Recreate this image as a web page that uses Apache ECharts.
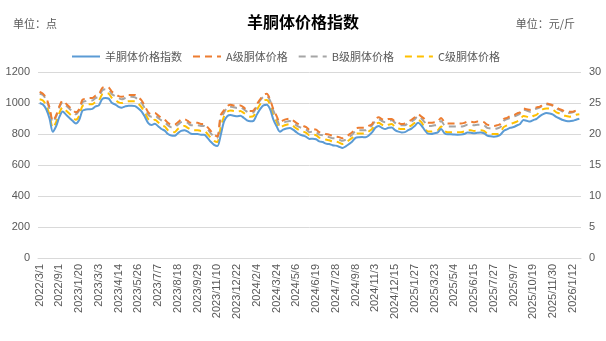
<!DOCTYPE html>
<html>
<head>
<meta charset="utf-8">
<script src="https://cdn.jsdelivr.net/npm/echarts@6/dist/echarts.min.js"></script>
<style>
  html, body { margin: 0; padding: 0; background: #fff; }
  #chart { width: 606px; height: 341px; }
</style>
</head>
<body>
<div id="chart"></div>
<script>
// Weekly (early period monthly) sampling dates
const dates = [
  '2022/3/1','2022/4/1','2022/5/1','2022/6/1','2022/7/1','2022/8/1','2022/9/1',
  '2022/10/1','2022/11/1','2022/12/1','2023/1/6','2023/1/13','2023/1/20',
  '2023/1/27','2023/2/3','2023/2/10','2023/2/17','2023/2/24','2023/3/3',
  '2023/3/10','2023/3/17','2023/3/24','2023/3/31','2023/4/7','2023/4/14',
  '2023/4/21','2023/4/28','2023/5/5','2023/5/12','2023/5/19','2023/5/26',
  '2023/6/2','2023/6/9','2023/6/16','2023/6/23','2023/6/30','2023/7/7',
  '2023/7/14','2023/7/21','2023/7/28','2023/8/4','2023/8/11','2023/8/18',
  '2023/8/25','2023/9/1','2023/9/8','2023/9/15','2023/9/22','2023/9/29',
  '2023/10/6','2023/10/13','2023/10/20','2023/10/27','2023/11/3','2023/11/10',
  '2023/11/17','2023/11/24','2023/12/1','2023/12/8','2023/12/15','2023/12/22',
  '2023/12/29','2024/1/5','2024/1/12','2024/1/19','2024/1/26','2024/2/4',
  '2024/2/18','2024/2/25','2024/3/3','2024/3/10','2024/3/17','2024/3/24',
  '2024/3/31','2024/4/7','2024/4/14','2024/4/21','2024/4/28','2024/5/6',
  '2024/5/13','2024/5/20','2024/5/27','2024/6/3','2024/6/11','2024/6/19',
  '2024/6/23','2024/6/30','2024/7/7','2024/7/14','2024/7/21','2024/7/28',
  '2024/8/4','2024/8/11','2024/8/18','2024/8/25','2024/9/1','2024/9/8',
  '2024/9/15','2024/9/22','2024/10/13','2024/10/20','2024/10/27','2024/11/3',
  '2024/11/10','2024/11/17','2024/11/24','2024/12/1','2024/12/8','2024/12/15',
  '2024/12/22','2024/12/29','2025/1/5','2025/1/12','2025/1/19','2025/1/27',
  '2025/2/16','2025/2/23','2025/3/2','2025/3/9','2025/3/16','2025/3/23',
  '2025/3/30','2025/4/6','2025/4/13','2025/4/20','2025/4/27','2025/5/4',
  '2025/5/11','2025/5/18','2025/5/25','2025/6/1','2025/6/8','2025/6/15',
  '2025/6/22','2025/6/29','2025/7/6','2025/7/13','2025/7/20','2025/7/27',
  '2025/8/3','2025/8/10','2025/8/17','2025/8/24','2025/8/31','2025/9/7',
  '2025/9/14','2025/9/21','2025/9/28','2025/10/5','2025/10/12','2025/10/19',
  '2025/10/26','2025/11/2','2025/11/9','2025/11/16','2025/11/23','2025/11/30',
  '2025/12/7','2025/12/14','2025/12/21','2025/12/28','2026/1/4','2026/1/12',
  '2026/1/18','2026/1/25'
];

// 羊胴体价格指数 (点)
const indexValues = [
  1000,990,960,900,815,850,910,945,925,905,885,868,890,
  950,958,960,962,978,985,1025,1032,1028,1000,990,975,
  970,978,983,983,980,965,945,910,870,858,866,850,
  832,822,800,790,788,805,820,825,815,802,800,800,
  795,795,775,750,730,722,790,880,915,922,918,914,
  918,905,888,882,885,925,960,985,988,960,895,850,
  815,828,836,838,828,812,798,790,782,768,770,766,
  752,748,738,735,728,725,718,710,720,735,752,775,
  779,780,779,790,810,840,852,840,832,840,842,825,
  815,810,812,825,835,852,872,855,825,802,800,805,
  810,832,805,798,798,796,795,796,800,810,808,805,
  808,810,805,790,785,783,785,795,820,830,840,845,
  855,865,890,885,880,890,898,915,928,935,932,925,
  910,900,890,884,882,885,892,898
];

// A级胴体价格 (元/斤)
const gradeA = [
  26.8,26.5,25.8,24.3,22.1,23.0,24.5,25.4,24.9,24.4,23.9,23.5,24.0,
  25.5,25.7,25.8,25.8,26.2,26.4,27.4,27.6,27.5,26.8,26.5,26.1,
  26.0,26.2,26.3,26.3,26.3,25.9,25.4,24.5,23.5,23.2,23.4,23.0,
  22.6,22.3,21.8,21.5,21.5,21.9,22.3,22.4,22.1,21.8,21.8,21.8,
  21.6,21.6,21.1,20.5,19.9,19.6,23.0,23.8,24.5,24.7,24.6,24.5,
  24.6,24.3,23.8,23.7,23.8,24.8,25.6,26.3,26.5,25.6,24.0,22.9,
  21.9,22.2,22.4,22.5,22.2,21.8,21.5,21.3,21.1,20.7,20.8,20.7,
  20.3,20.2,20.0,19.9,19.7,19.6,19.5,19.3,19.5,19.9,20.3,20.9,
  21.0,21.0,21.0,21.3,21.6,22.4,22.7,22.4,22.2,22.4,22.4,22.0,
  21.8,21.6,21.7,22.0,22.3,22.7,23.2,22.8,22.4,21.8,21.8,21.9,
  22.0,22.6,21.9,21.7,21.7,21.7,21.7,21.7,21.8,22.0,22.0,21.9,
  22.0,22.0,21.9,21.5,21.4,21.3,21.4,21.6,22.4,22.6,22.9,23.0,
  23.3,23.5,24.1,24.0,23.9,24.1,24.3,24.4,24.7,24.9,24.8,24.6,
  24.3,24.0,23.8,23.6,23.6,23.6,23.8,24.0
];

// B级胴体价格 (元/斤)
const gradeB = [
  26.5,26.3,25.5,24.0,21.9,22.8,24.3,25.1,24.6,24.1,23.6,23.2,23.8,
  25.1,25.3,25.4,25.4,25.8,26.0,27.0,27.2,27.1,26.4,26.1,25.8,
  25.6,25.8,26.0,26.0,25.9,25.5,25.0,24.1,23.1,22.8,23.0,22.6,
  22.2,21.9,21.4,21.1,21.1,21.5,21.9,22.0,21.8,21.4,21.4,21.4,
  21.3,21.3,20.8,20.1,19.6,19.4,22.5,23.4,24.3,24.4,24.3,24.2,
  24.3,24.0,23.6,23.4,23.5,24.5,25.4,26.0,26.1,25.4,23.8,22.6,
  21.5,21.8,22.0,22.1,21.8,21.4,21.1,20.9,20.7,20.3,20.4,20.3,
  19.9,19.8,19.6,19.5,19.3,19.3,19.1,18.9,19.1,19.5,19.9,20.5,
  20.6,20.6,20.6,20.9,21.4,22.1,22.4,22.1,21.9,22.1,22.2,21.8,
  21.5,21.4,21.4,21.8,22.0,22.4,22.9,22.5,21.9,21.3,21.3,21.4,
  21.5,22.1,21.4,21.2,21.2,21.2,21.2,21.2,21.3,21.5,21.5,21.4,
  21.5,21.5,21.4,21.0,20.9,20.8,20.9,21.1,22.1,22.4,22.6,22.8,
  23.0,23.3,23.9,23.8,23.6,23.9,24.1,24.3,24.6,24.8,24.7,24.5,
  24.1,23.9,23.6,23.5,23.4,23.5,23.7,23.8
];

// C级胴体价格 (元/斤)
const gradeC = [
  25.6,25.4,24.6,23.1,21.0,21.9,23.4,24.3,23.8,23.3,22.8,22.3,22.9,
  24.5,24.7,24.8,24.8,25.2,25.4,26.4,26.6,26.5,25.8,25.5,25.1,
  25.0,25.2,25.3,25.3,25.3,24.9,24.3,23.4,22.4,22.1,22.3,21.9,
  21.4,21.2,20.6,20.4,20.3,20.8,21.1,21.3,21.0,20.7,20.6,20.6,
  20.5,20.5,20.0,19.4,18.9,18.7,21.0,22.8,23.6,23.8,23.7,23.6,
  23.7,23.4,23.0,22.8,22.9,23.9,24.8,25.4,25.5,24.8,23.1,22.0,
  21.0,21.3,21.5,21.6,21.3,20.9,20.6,20.4,20.2,19.8,19.9,19.8,
  19.4,19.3,19.1,19.0,18.8,18.8,18.6,18.4,18.6,19.0,19.4,20.0,
  20.1,20.1,20.1,20.4,20.8,21.5,21.8,21.5,21.3,21.5,21.6,21.1,
  20.9,20.8,20.8,21.1,21.4,21.8,22.3,21.9,21.0,20.4,20.4,20.5,
  20.6,21.2,20.5,20.3,20.3,20.3,20.3,20.3,20.4,20.6,20.6,20.5,
  20.6,20.6,20.5,20.1,20.0,20.0,20.0,20.3,21.1,21.4,21.6,21.8,
  22.0,22.3,22.9,22.8,22.6,22.9,23.1,23.6,24.0,24.1,24.1,23.9,
  23.5,23.3,23.0,22.9,22.8,22.9,23.1,23.2
];

const seriesNames = ['羊胴体价格指数', 'A级胴体价格', 'B级胴体价格', 'C级胴体价格'];
const seriesColors = ['#5B9BD5', '#ED7D31', '#A5A5A5', '#FFC000'];

const cjk = '"Noto Sans CJK SC", "Noto Sans", sans-serif';
const latin = '"Liberation Sans", Arial, sans-serif';
const textGray = '#595959';

const chart = echarts.init(document.getElementById('chart'), null, { renderer: 'canvas' });

function lineSeries(idx, data, yAxisIndex, dashed) {
  return {
    name: seriesNames[idx],
    type: 'line',
    data: data,
    yAxisIndex: yAxisIndex,
    smooth: 0.3,
    symbol: 'none',
    z: 10 - idx,
    lineStyle: {
      color: seriesColors[idx],
      width: 2,
      type: dashed ? [7, 5] : 'solid',
      cap: 'butt'
    },
    itemStyle: { color: seriesColors[idx] }
  };
}

chart.setOption({
  animation: false,
  backgroundColor: '#fff',
  textStyle: { fontFamily: cjk },
  title: [
    {
      text: '羊胴体价格指数',
      left: 'center',
      top: 9,
      textStyle: { fontFamily: cjk, fontSize: 16, fontWeight: 'bold', color: '#000' }
    },
    {
      text: '单位：点',
      left: 8,
      top: 13,
      textStyle: { fontFamily: cjk, fontSize: 11, fontWeight: 'normal', color: textGray }
    },
    {
      text: '单位：元/斤',
      right: 26,
      top: 13,
      textStyle: { fontFamily: cjk, fontSize: 11, fontWeight: 'normal', color: textGray }
    }
  ],
  legend: {
    data: seriesNames,
    left: 66,
    top: 46,
    itemWidth: 28,
    itemHeight: 10,
    itemGap: 10,
    itemStyle: { opacity: 0 },
    textStyle: { fontFamily: cjk, fontSize: 11, color: textGray }
  },
  grid: { left: 38, right: 25, top: 72, bottom: 83, containLabel: false },
  xAxis: {
    type: 'category',
    data: dates,
    boundaryGap: true,
    axisLine: { show: true, lineStyle: { color: '#D9D9D9', width: 1 } },
    axisTick: { show: false },
    axisLabel: {
      interval: 5,
      rotate: 90,
      fontFamily: latin,
      fontSize: 11,
      color: textGray,
      margin: 6
    }
  },
  yAxis: [
    {
      type: 'value',
      min: 0,
      max: 1200,
      interval: 200,
      axisLine: { show: false },
      axisTick: { show: false },
      axisLabel: { fontFamily: latin, fontSize: 11, color: textGray, margin: 8, formatter: v => String(v) },
      splitLine: { lineStyle: { color: '#D9D9D9', width: 1 } }
    },
    {
      type: 'value',
      min: 0,
      max: 30,
      interval: 5,
      position: 'right',
      axisLine: { show: false },
      axisTick: { show: false },
      axisLabel: { fontFamily: latin, fontSize: 11, color: textGray, margin: 8, formatter: v => String(v) },
      splitLine: { show: false }
    }
  ],
  series: [
    lineSeries(0, indexValues, 0, false),
    lineSeries(1, gradeA, 1, true),
    lineSeries(2, gradeB, 1, true),
    lineSeries(3, gradeC, 1, true)
  ]
});
</script>
</body>
</html>
